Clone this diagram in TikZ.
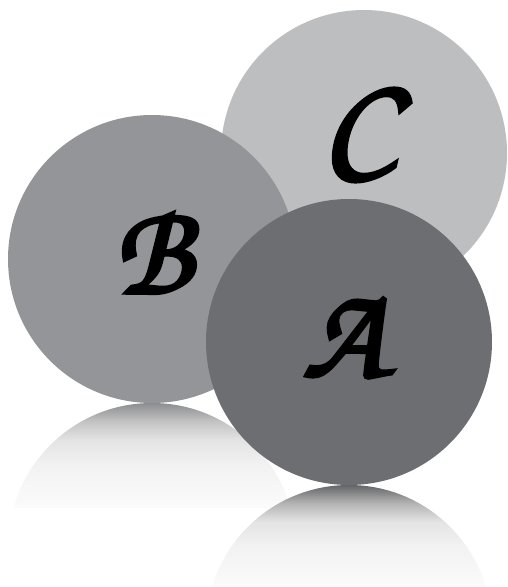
\documentclass[tikz,border=0pt]{standalone}
\usepackage{fontspec}
\newfontfamily\brush[FakeBold=3]{TeX Gyre Chorus}
\definecolor{cC}{HTML}{BCBEC0}
\definecolor{cB}{HTML}{939598}
\definecolor{cA}{HTML}{6D6E71}
\definecolor{refB}{HTML}{8C8D8F}
\definecolor{refA}{HTML}{646567}
\definecolor{refQ}{HTML}{C4C4C5}
\definecolor{refQA}{HTML}{B4B4B5}
\definecolor{refMid}{HTML}{E4E4E4}
\definecolor{refLow}{HTML}{F2F2F2}
\definecolor{refEnd}{HTML}{FBFBFB}
\pgfdeclareverticalshading{shadeB}{100bp}{color(0bp)=(refEnd); color(25bp)=(refEnd); color(45bp)=(refLow); color(57bp)=(refMid); color(66bp)=(refQ); color(75bp)=(refB); color(100bp)=(refB)}
\pgfdeclareverticalshading{shadeA}{100bp}{color(0bp)=(refEnd); color(25bp)=(refEnd); color(45bp)=(refLow); color(57bp)=(refMid); color(66bp)=(refQA); color(75bp)=(refA); color(100bp)=(refA)}
\tikzset{
  disc/.style={circle, inner sep=0pt, minimum size=#1},
  letter/.style={font=\brush\fontsize{#1}{#1}\selectfont, text=black, inner sep=0pt},
}
\begin{document}
\begin{tikzpicture}[x=1pt,y=-1pt]
\useasboundingbox (0,0) rectangle (507,587);
% reflections
\begin{scope}
  \clip (152,547) circle[radius=144];
  \shade[shading=shadeB] (0,403) rectangle (507,507);
\end{scope}
\begin{scope}
  \clip (349,628) circle[radius=143];
  \shade[shading=shadeA] (0,485) rectangle (507,587);
\end{scope}
% discs
\node[disc=286pt, fill=cC] (C) at (364,153) {};
\node[disc=288pt, fill=cB] (B) at (152,259) {};
\node[disc=286pt, fill=cA] (A) at (349,342) {};
% letters
\node[letter=140] (lC) at (358,135) {C};
\node[letter=130] (lB) at (153,253) {B};
\node[letter=132] (lA) at (344,338) {A};
\end{tikzpicture}
\end{document}
